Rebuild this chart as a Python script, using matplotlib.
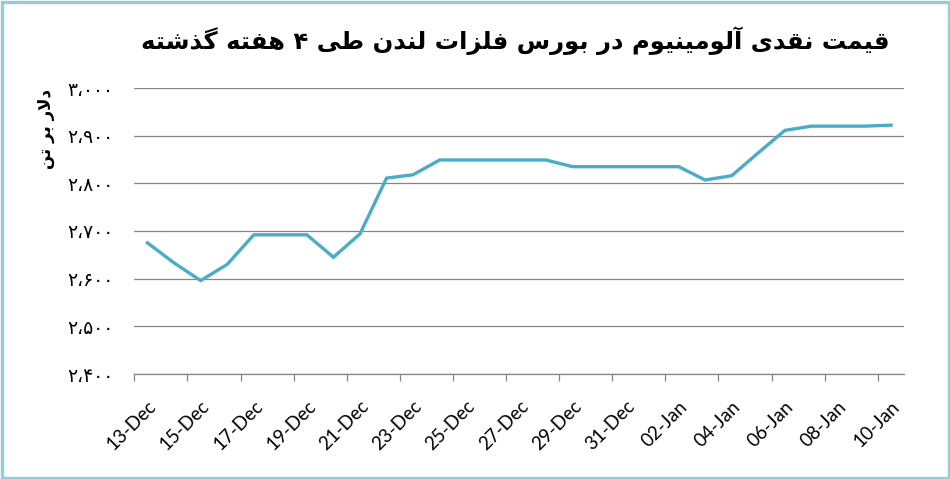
import matplotlib
matplotlib.use("Agg")
import matplotlib.pyplot as plt
from matplotlib.ticker import FixedLocator, FuncFormatter
from matplotlib.patches import Rectangle

# ---------------- data ----------------
dates = ["13-Dec", "14-Dec", "15-Dec", "16-Dec", "17-Dec", "18-Dec", "19-Dec",
         "20-Dec", "21-Dec", "22-Dec", "23-Dec", "24-Dec", "25-Dec", "26-Dec",
         "27-Dec", "28-Dec", "29-Dec", "30-Dec", "31-Dec", "01-Jan", "02-Jan",
         "03-Jan", "04-Jan", "05-Jan", "06-Jan", "07-Jan", "08-Jan", "09-Jan",
         "10-Jan"]
prices = [2675, 2633, 2596, 2630, 2692, 2692, 2692,
          2645, 2694, 2811, 2818, 2849, 2849, 2849,
          2849, 2849, 2835, 2835, 2835, 2835, 2835,
          2807, 2816, 2864, 2911, 2920, 2920, 2920,
          2922]
y_ticks = [2400, 2500, 2600, 2700, 2800, 2900, 3000]
title_text = "قیمت نقدی آلومینیوم در بورس فلزات لندن طی ۴ هفته گذشته"
ylabel_text = "دلار بر تن"

# ------------- simple Arabic/Persian shaping -------------
FORMS = {
    '\u0622': ('\uFE81', '\uFE82', None, None),
    '\u0627': ('\uFE8D', '\uFE8E', None, None),
    '\u0628': ('\uFE8F', '\uFE90', '\uFE91', '\uFE92'),
    '\u062A': ('\uFE95', '\uFE96', '\uFE97', '\uFE98'),
    '\u062F': ('\uFEA9', '\uFEAA', None, None),
    '\u0630': ('\uFEAB', '\uFEAC', None, None),
    '\u0631': ('\uFEAD', '\uFEAE', None, None),
    '\u0632': ('\uFEAF', '\uFEB0', None, None),
    '\u0633': ('\uFEB1', '\uFEB2', '\uFEB3', '\uFEB4'),
    '\u0634': ('\uFEB5', '\uFEB6', '\uFEB7', '\uFEB8'),
    '\u0637': ('\uFEC1', '\uFEC2', '\uFEC3', '\uFEC4'),
    '\u0641': ('\uFED1', '\uFED2', '\uFED3', '\uFED4'),
    '\u0642': ('\uFED5', '\uFED6', '\uFED7', '\uFED8'),
    '\u06AF': ('\uFB92', '\uFB93', '\uFB94', '\uFB95'),
    '\u0644': ('\uFEDD', '\uFEDE', '\uFEDF', '\uFEE0'),
    '\u0645': ('\uFEE1', '\uFEE2', '\uFEE3', '\uFEE4'),
    '\u0646': ('\uFEE5', '\uFEE6', '\uFEE7', '\uFEE8'),
    '\u0647': ('\uFEE9', '\uFEEA', '\uFEEB', '\uFEEC'),
    '\u0648': ('\uFEED', '\uFEEE', None, None),
    '\u06CC': ('\uFBFC', '\uFBFD', '\uFBFE', '\uFBFF'),
    'LA': ('\uFEFB', '\uFEFC', None, None),
    'LAA': ('\uFEF5', '\uFEF6', None, None),
}


def shape(text):
    toks = []
    i = 0
    while i < len(text):
        c = text[i]
        if c == '\u0644' and i + 1 < len(text) and text[i + 1] in ('\u0627', '\u0622'):
            toks.append('LA' if text[i + 1] == '\u0627' else 'LAA')
            i += 2
        else:
            toks.append(c)
            i += 1
    out = []
    for k, t in enumerate(toks):
        if t not in FORMS:
            out.append(t)
            continue
        f = FORMS[t]
        prev = toks[k - 1] if k > 0 else None
        nxt = toks[k + 1] if k + 1 < len(toks) else None
        cp = prev in FORMS and FORMS[prev][2] is not None
        cn = f[2] is not None and nxt in FORMS
        if cp and cn:
            out.append(f[3])
        elif cp:
            out.append(f[1])
        elif cn:
            out.append(f[2])
        else:
            out.append(f[0])
    return ''.join(out)[::-1]


PERSIAN_DIGITS = str.maketrans('0123456789,', '۰۱۲۳۴۵۶۷۸۹\u060C')


def fa_num(v, pos=None):
    return f"{int(round(v)):,}".translate(PERSIAN_DIGITS)


# ---------------- figure ----------------
W, H = 950, 479
fig = plt.figure(figsize=(W / 100, H / 100), dpi=100)
fig.patch.set_facecolor('white')

# light blue frame
fig.add_artist(Rectangle((1.5 / W, 1.5 / H), 1 - 3 / W, 1 - 3 / H,
                         transform=fig.transFigure, fill=False,
                         edgecolor='#93CDDD', linewidth=2.4))

left, right, top, bottom = 134.3, 904.3, 88, 374
ax = fig.add_axes([left / W, 1 - bottom / H, (right - left) / W, (bottom - top) / H])

x = list(range(len(dates)))
ax.plot(x, prices, color='#4BACC6', linewidth=2.4, solid_joinstyle='miter', zorder=3)

ax.set_xlim(-0.5, len(dates) - 0.5)
ax.set_ylim(y_ticks[0], y_ticks[-1])

grid_color = '#868686'
ax.set_yticks(y_ticks)
ax.yaxis.set_major_formatter(FuncFormatter(fa_num))
ax.grid(axis='y', color=grid_color, linewidth=0.9, zorder=1)
ax.tick_params(axis='y', length=0, pad=15, labelsize=13.5)
for lab in ax.get_yticklabels():
    lab.set_fontfamily('DejaVu Sans')
    lab.set_horizontalalignment('right')

for s in ['left', 'right', 'top']:
    ax.spines[s].set_visible(False)
ax.spines['bottom'].set_color(grid_color)
ax.spines['bottom'].set_linewidth(0.9)

label_pos = x[::2]
ax.set_xticks(label_pos)
ax.set_xticklabels([dates[i] for i in label_pos], rotation=45, ha='right',
                   rotation_mode='anchor', fontsize=13.5, fontfamily='Lato')
ax.tick_params(axis='x', which='major', length=0, pad=17)
ax.xaxis.set_minor_locator(FixedLocator([i - 0.5 for i in range(0, len(dates), 2)]))
ax.tick_params(axis='x', which='minor', length=5, color=grid_color, width=0.9)

fig.text(515 / W, 1 - 41 / H, shape(title_text), ha='center', va='center',
         fontsize=17.5, fontweight='bold', fontfamily='DejaVu Sans')
fig.text(46 / W, 1 - 129 / H, shape(ylabel_text), ha='center', va='center',
         rotation=90, fontsize=12, fontweight='bold', fontfamily='DejaVu Sans')

fig.savefig('out.png', dpi=100)
